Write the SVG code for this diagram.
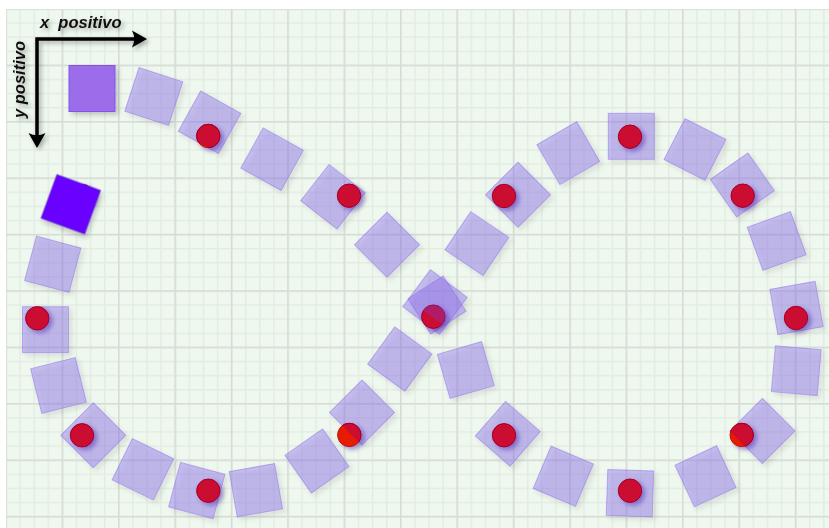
<svg xmlns="http://www.w3.org/2000/svg" width="829" height="528" viewBox="0 0 829 528">
<style>
.sq{fill:rgb(140,110,235);fill-opacity:.42;stroke:rgb(140,110,235);stroke-opacity:.5;stroke-width:1}
.solid{fill:#9b6deb;stroke:#8452e6;stroke-width:1}
.dark{fill:#6a00ff;stroke:#5a10d8;stroke-width:1}
.dot{fill:#cc0a33;stroke:#a3001f;stroke-width:1}
.hot{fill:#e61e00;stroke:#b81a00;stroke-width:1}
.tint{fill:rgb(120,60,200);fill-opacity:.35}
.lbl{font-family:"Liberation Sans",Arial,sans-serif;font-size:16.5px;font-weight:bold;font-style:italic;fill:#111}
.axis{fill:none;stroke:#000;stroke-width:3.5;stroke-linejoin:miter}
</style>
<defs>
<pattern id="minor" patternUnits="userSpaceOnUse" x="5.25" y="8.25" width="14.1" height="14.1">
<path d="M0 0.75H14.1M0.75 0V14.1" stroke="#e2ece2" stroke-width="1.5" fill="none"/>
</pattern>
<pattern id="major" patternUnits="userSpaceOnUse" x="5.25" y="8.25" width="56.4" height="56.4">
<path d="M0 0.75H56.4M0.75 0V56.4" stroke="#d6dbd6" stroke-width="1.5" fill="none"/>
</pattern>
<filter id="sh" x="-30%" y="-30%" width="170%" height="170%">
<feDropShadow dx="3" dy="3" stdDeviation="2.5" flood-color="#000" flood-opacity="0.2"/>
</filter>
<filter id="dsh" x="-50%" y="-50%" width="200%" height="200%">
<feDropShadow dx="3" dy="2.5" stdDeviation="2" flood-color="#3a1aa0" flood-opacity="0.45"/>
</filter>
<filter id="tsh" x="-20%" y="-40%" width="140%" height="180%">
<feDropShadow dx="2.5" dy="2.5" stdDeviation="2" flood-color="#000" flood-opacity="0.3"/>
</filter>
<marker id="ah" viewBox="-16 -10 18 20" refX="-6" refY="0" markerWidth="18" markerHeight="20" markerUnits="userSpaceOnUse" orient="auto-start-reverse">
<path d="M0 0L-15 -8.5Q-10.5 0 -15 8.5Z" fill="#000"/>
</marker>
<clipPath id="cS3"><rect x="-23" y="-23" width="46" height="46" transform="translate(209.6,122.3) rotate(29)"/></clipPath>
<clipPath id="cS24"><rect x="-23" y="-23" width="46" height="46" transform="translate(362,412.6) rotate(45)"/></clipPath>
<clipPath id="cS17"><rect x="-23" y="-23" width="46" height="46" transform="translate(762.4,430.9) rotate(45)"/></clipPath>
<clipPath id="cC"><rect x="-30" y="-30" width="60" height="31" transform="translate(433.3,316.7) rotate(35)"/></clipPath>
</defs>
<rect width="829" height="528" fill="#fff"/>
<rect x="6" y="9" width="823" height="519" fill="#eff8ef"/>
<rect x="6" y="9" width="823" height="519" fill="url(#minor)"/>
<rect x="6" y="9" width="823" height="519" fill="url(#major)"/>

<g id="squares" filter="url(#sh)">
<g id="sq2" transform="translate(153.8,96.5) rotate(18)"><rect class="sq" x="-23" y="-23" width="46" height="46"/></g>
<g id="sq3" transform="translate(209.6,122.3) rotate(29)"><rect class="sq" x="-23" y="-23" width="46" height="46"/></g>
<g id="sq4" transform="translate(272.1,159.2) rotate(29)"><rect class="sq" x="-23" y="-23" width="46" height="46"/></g>
<g id="sq5" transform="translate(333,196.7) rotate(38)"><rect class="sq" x="-23" y="-23" width="46" height="46"/></g>
<g id="sq6" transform="translate(387,244.8) rotate(45)"><rect class="sq" x="-23" y="-23" width="46" height="46"/></g>
<g id="sq7a" transform="translate(435,302) rotate(37)"><rect class="sq" x="-23" y="-23" width="46" height="46"/></g>
<g id="sq7b" transform="translate(437,305) rotate(57)"><rect class="sq" x="-21" y="-21" width="42" height="42"/></g>
<g id="sq8" transform="translate(476.9,243.6) rotate(34)"><rect class="sq" x="-23" y="-23" width="46" height="46"/></g>
<g id="sq9" transform="translate(518,194.7) rotate(45)"><rect class="sq" x="-23" y="-23" width="46" height="46"/></g>
<g id="sq10" transform="translate(568.3,153.2) rotate(60)"><rect class="sq" x="-23" y="-23" width="46" height="46"/></g>
<g id="sq11" transform="translate(631.3,136.3)"><rect class="sq" x="-23" y="-23" width="46" height="46"/></g>
<g id="sq12" transform="translate(695,149.5) rotate(27)"><rect class="sq" x="-23" y="-23" width="46" height="46"/></g>
<g id="sq13" transform="translate(742.3,185) rotate(55)"><rect class="sq" x="-23" y="-23" width="46" height="46"/></g>
<g id="sq14" transform="translate(776.7,241) rotate(-20)"><rect class="sq" x="-23" y="-23" width="46" height="46"/></g>
<g id="sq15" transform="translate(796.5,308) rotate(-10)"><rect class="sq" x="-23" y="-23" width="46" height="46"/></g>
<g id="sq16" transform="translate(796.3,370.7) rotate(5)"><rect class="sq" x="-23" y="-23" width="46" height="46"/></g>
<g id="sq17" transform="translate(762.4,430.9) rotate(45)"><rect class="sq" x="-23" y="-23" width="46" height="46"/></g>
<g id="sq18" transform="translate(705.5,476.3) rotate(-25)"><rect class="sq" x="-23" y="-23" width="46" height="46"/></g>
<g id="sq19" transform="translate(630,493.2) rotate(2)"><rect class="sq" x="-23" y="-23" width="46" height="46"/></g>
<g id="sq20" transform="translate(563.3,476.2) rotate(23)"><rect class="sq" x="-23" y="-23" width="46" height="46"/></g>
<g id="sq21" transform="translate(507.8,433.8) rotate(41)"><rect class="sq" x="-23" y="-23" width="46" height="46"/></g>
<g id="sq22" transform="translate(465.8,370) rotate(-16)"><rect class="sq" x="-23" y="-23" width="46" height="46"/></g>
<g id="sq23" transform="translate(399.8,359.1) rotate(36)"><rect class="sq" x="-23" y="-23" width="46" height="46"/></g>
<g id="sq24" transform="translate(362,412.6) rotate(45)"><rect class="sq" x="-23" y="-23" width="46" height="46"/></g>
<g id="sq25" transform="translate(317,460.9) rotate(55)"><rect class="sq" x="-23" y="-23" width="46" height="46"/></g>
<g id="sq26" transform="translate(255.9,490.2) rotate(-10)"><rect class="sq" x="-23" y="-23" width="46" height="46"/></g>
<g id="sq27" transform="translate(196.8,490.6) rotate(15)"><rect class="sq" x="-23" y="-23" width="46" height="46"/></g>
<g id="sq28" transform="translate(142.9,469.3) rotate(26)"><rect class="sq" x="-23" y="-23" width="46" height="46"/></g>
<g id="sq29" transform="translate(93.3,435.2) rotate(45)"><rect class="sq" x="-23" y="-23" width="46" height="46"/></g>
<g id="sq30" transform="translate(58.5,385.5) rotate(-14)"><rect class="sq" x="-23" y="-23" width="46" height="46"/></g>
<g id="sq31" transform="translate(45.5,329.7)"><rect class="sq" x="-23" y="-23" width="46" height="46"/></g>
<g id="sq32" transform="translate(52.75,264.3) rotate(15)"><rect class="sq" x="-23" y="-23" width="46" height="46"/></g>
</g>

<g id="dots" filter="url(#dsh)">
<g id="dot1"><circle class="dot" cx="82" cy="196" r="11.7"/></g>
<g id="dot2"><circle class="hot" cx="208.3" cy="136" r="11.7"/><circle class="dot" cx="208.3" cy="136" r="11.7" clip-path="url(#cS3)"/></g>
<g id="dot3"><circle class="dot" cx="349" cy="195.7" r="11.7"/></g>
<g id="dot4"><circle class="dot" cx="433.3" cy="316.7" r="11.7"/><circle class="tint" cx="433.3" cy="316.7" r="12.2" clip-path="url(#cC)"/></g>
<g id="dot5"><circle class="dot" cx="504" cy="196" r="11.7"/></g>
<g id="dot6"><circle class="dot" cx="630" cy="136.7" r="11.7"/></g>
<g id="dot7"><circle class="dot" cx="742.7" cy="195.7" r="11.7"/></g>
<g id="dot8"><circle class="dot" cx="796" cy="318" r="11.7"/></g>
<g id="dot9"><circle class="hot" cx="741.7" cy="435" r="11.7"/><circle class="dot" cx="741.7" cy="435" r="11.7" clip-path="url(#cS17)"/></g>
<g id="dot10"><circle class="dot" cx="630" cy="490.7" r="11.7"/></g>
<g id="dot11"><circle class="dot" cx="504" cy="435.3" r="11.7"/></g>
<g id="dot12"><circle class="hot" cx="349.3" cy="435" r="11.7"/><circle class="dot" cx="349.3" cy="435" r="11.7" clip-path="url(#cS24)"/></g>
<g id="dot13"><circle class="dot" cx="208.3" cy="490.7" r="11.7"/></g>
<g id="dot14"><circle class="dot" cx="82" cy="435.3" r="11.7"/></g>
<g id="dot15"><circle class="dot" cx="37.3" cy="318.3" r="11.7"/></g>
</g>

<g id="sq1" filter="url(#sh)" transform="translate(92,88.5)"><rect class="solid" x="-23" y="-23" width="46" height="46"/></g>
<g id="sq33" filter="url(#sh)" transform="translate(70.8,204.3) rotate(20)"><rect class="dark" x="-23" y="-23" width="46" height="46"/></g>

<g id="axes" filter="url(#tsh)">
<path class="axis" d="M141 39H37V142" marker-start="url(#ah)" marker-end="url(#ah)"/>
<text class="lbl" x="40" y="28" xml:space="preserve">x  positivo</text>
<text class="lbl" transform="translate(25,118) rotate(-90)">y positivo</text>
</g>
</svg>
